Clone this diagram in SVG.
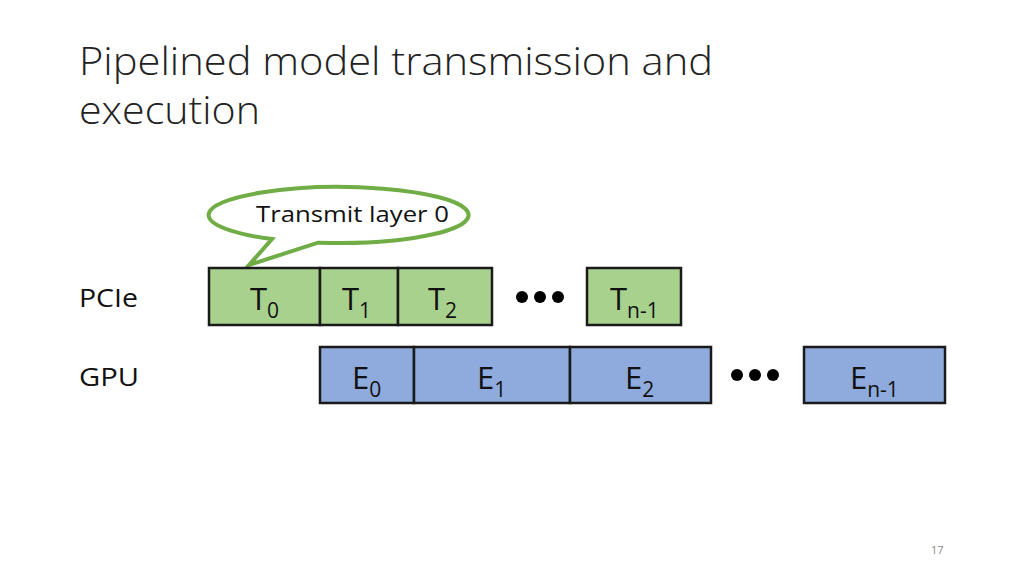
<svg xmlns="http://www.w3.org/2000/svg" width="1024" height="576" viewBox="0 0 1024 576">
<style>
text{font-family:"Open Sans","Liberation Sans",sans-serif;fill:#111}
.title{font-size:39px;font-weight:300;fill:#222}
.lbl{font-size:26px}
.t{fill:#A9D18E;stroke:#1a1a1a;stroke-width:2.5}
.e{fill:#8FAADC;stroke:#1a1a1a;stroke-width:2.5}
.big{font-size:31px}
.sub{font-size:21px}
.dot{fill:#000}
</style>
<rect width="1024" height="576" fill="#fff"/>
<text class="title" x="79" y="75" textLength="634" lengthAdjust="spacingAndGlyphs">Pipelined model transmission and</text>
<text class="title" x="79" y="124" textLength="181" lengthAdjust="spacingAndGlyphs">execution</text>
<text class="lbl" x="79" y="307" textLength="59" lengthAdjust="spacingAndGlyphs">PCIe</text>
<text class="lbl" x="79" y="386" textLength="60" lengthAdjust="spacingAndGlyphs">GPU</text>
<g id="callout">
<path d="M272,239.1 A130,28 0 1 1 318,242.7 L249,265 Z" fill="#fff" stroke="#70AD47" stroke-width="4" stroke-linejoin="miter"/>
<text x="256" y="222" font-size="21" textLength="193" lengthAdjust="spacingAndGlyphs">Transmit layer 0</text>
</g>
<g id="T0"><rect class="t" x="209" y="268" width="111" height="57"/><text class="big" x="250" y="310">T<tspan class="sub" dy="8">0</tspan></text></g>
<g id="T1"><rect class="t" x="320" y="268" width="78" height="57"/><text class="big" x="342" y="310">T<tspan class="sub" dy="8">1</tspan></text></g>
<g id="T2"><rect class="t" x="398" y="268" width="94" height="57"/><text class="big" x="428" y="310">T<tspan class="sub" dy="8">2</tspan></text></g>
<g id="dotsT"><circle class="dot" cx="522" cy="297" r="6"/><circle class="dot" cx="540" cy="297" r="6"/><circle class="dot" cx="558" cy="297" r="6"/></g>
<g id="Tn-1"><rect class="t" x="587" y="268" width="94" height="57"/><text class="big" x="610" y="310">T<tspan class="sub" dy="8">n-1</tspan></text></g>
<g id="E0"><rect class="e" x="320" y="347" width="94" height="56"/><text class="big" x="352" y="389">E<tspan class="sub" dy="8">0</tspan></text></g>
<g id="E1"><rect class="e" x="414" y="347" width="156" height="56"/><text class="big" x="477" y="389">E<tspan class="sub" dy="8">1</tspan></text></g>
<g id="E2"><rect class="e" x="570" y="347" width="141" height="56"/><text class="big" x="625" y="389">E<tspan class="sub" dy="8">2</tspan></text></g>
<g id="dotsE"><circle class="dot" cx="737" cy="375" r="6"/><circle class="dot" cx="755" cy="375" r="6"/><circle class="dot" cx="773" cy="375" r="6"/></g>
<g id="En-1"><rect class="e" x="804" y="347" width="141" height="56"/><text class="big" x="850" y="389">E<tspan class="sub" dy="8">n-1</tspan></text></g>
<g id="connectors"></g>
<text x="931" y="554" font-size="11" style="fill:#888">17</text>
</svg>
